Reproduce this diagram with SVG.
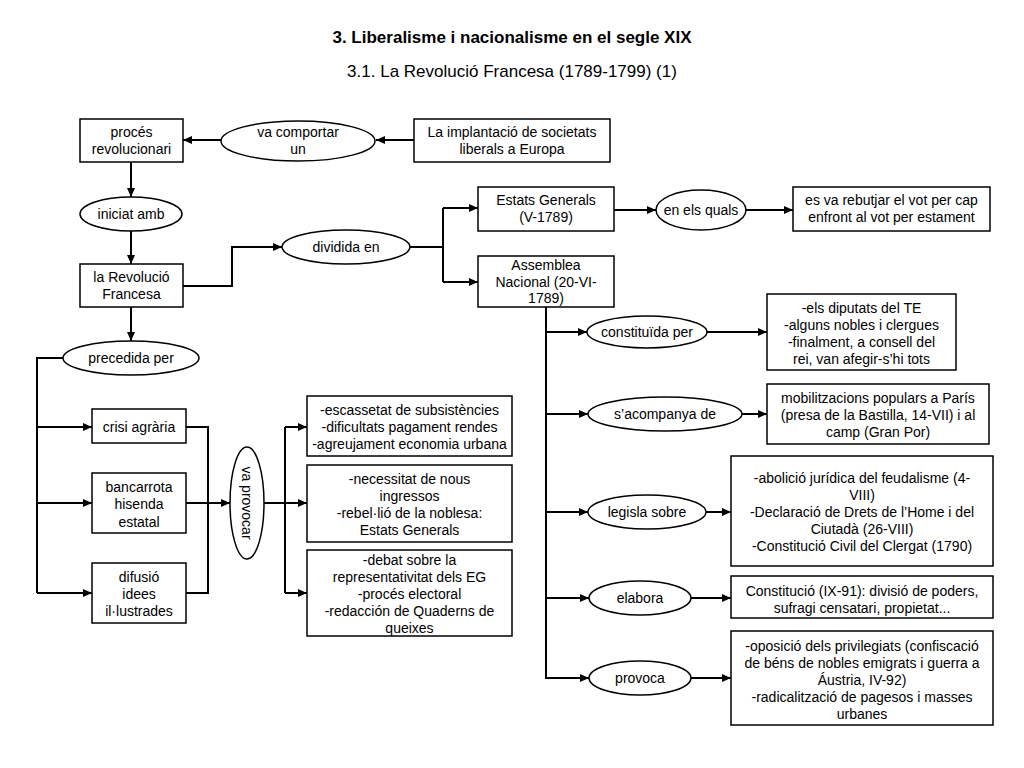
<svg xmlns="http://www.w3.org/2000/svg" width="1024" height="768" viewBox="0 0 1024 768">
<defs>
<marker id="ah" markerWidth="9" markerHeight="8" refX="9" refY="4" orient="auto" markerUnits="userSpaceOnUse"><path d="M0,0 L9,4 L0,8 z" fill="#000"/></marker>
<style>
text{font-family:"Liberation Sans",Arial,sans-serif;font-size:14px;fill:#000;text-anchor:middle}
.t1{font-size:17px;font-weight:bold}
.t2{font-size:17px}
rect,ellipse{fill:#fff;stroke:#000;stroke-width:1.5}
.c path{fill:none;stroke:#000;stroke-width:2}
.a{marker-end:url(#ah)}
</style>
</defs>
<rect x="0" y="0" width="1024" height="768" style="stroke:none;fill:#fff"/>
<text class="t1" x="512" y="43">3. Liberalisme i nacionalisme en el segle XIX</text>
<text class="t2" x="512" y="77">3.1. La Revolució Francesa (1789-1799) (1)</text>

<g class="c" id="connectors">
<path class="a" d="M414,140 H376"/>
<path class="a" d="M221,140 H183"/>
<path class="a" d="M131,162 V197"/>
<path class="a" d="M131,231 V264"/>
<path class="a" d="M131,307 V341"/>
<path class="a" d="M183,286 H232 V247 H282"/>
<path d="M409,247 H443 M443,208 V282"/>
<path class="a" d="M443,208 H478"/>
<path class="a" d="M443,282 H478"/>
<path class="a" d="M614,210 H656"/>
<path class="a" d="M746,210 H793"/>
<path d="M546,307 V679"/>
<path class="a" d="M546,332 H587"/>
<path class="a" d="M546,414 H588"/>
<path class="a" d="M546,512 H588"/>
<path class="a" d="M546,598 H589"/>
<path class="a" d="M546,678 H589"/>
<path class="a" d="M707,332 H767"/>
<path class="a" d="M742,414 H767"/>
<path class="a" d="M706,512 H731"/>
<path class="a" d="M691,598 H731"/>
<path class="a" d="M691,678 H731"/>
<path d="M63,358 H37 V593"/>
<path class="a" d="M37,427 H92"/>
<path class="a" d="M37,503 H92"/>
<path class="a" d="M37,593 H92"/>
<path d="M186,427 H208 V593 H186"/>
<path class="a" d="M186,503 H230"/>
<path d="M264,503 H285 M285,427 V593"/>
<path class="a" d="M285,427 H307"/>
<path class="a" d="M285,503 H307"/>
<path class="a" d="M285,593 H307"/>
</g>

<g id="proces"><rect x="80" y="119" width="103" height="43"/><text x="131.5" y="137">procés</text><text x="131.5" y="154">revolucionari</text></g>
<g id="comportar"><ellipse cx="298" cy="141" rx="77" ry="20"/><text x="298" y="137">va comportar</text><text x="298" y="154">un</text></g>
<g id="implantacio"><rect x="414" y="119" width="196" height="43"/><text x="512" y="137">La implantació de societats</text><text x="512" y="154">liberals a Europa</text></g>
<g id="iniciat"><ellipse cx="131" cy="214" rx="51" ry="17"/><text x="131" y="219">iniciat amb</text></g>
<g id="revolucio"><rect x="80" y="264" width="103" height="43"/><text x="131.5" y="282">la Revolució</text><text x="131.5" y="299">Francesa</text></g>
<g id="dividida"><ellipse cx="346" cy="247" rx="64" ry="17"/><text x="346" y="252">dividida en</text></g>
<g id="estats"><rect x="478" y="187" width="136" height="44"/><text x="546" y="205">Estats Generals</text><text x="546" y="222">(V-1789)</text></g>
<g id="quals"><ellipse cx="701" cy="210" rx="45" ry="20"/><text x="701" y="215">en els quals</text></g>
<g id="rebutjar"><rect x="793" y="187" width="197" height="44"/><text x="891.5" y="205">es va rebutjar el vot per cap</text><text x="891.5" y="222">enfront al vot per estament</text></g>
<g id="assemblea"><rect x="478" y="256" width="136" height="51"/><text x="546" y="270">Assemblea</text><text x="546" y="287">Nacional (20-VI-</text><text x="546" y="303">1789)</text></g>
<g id="constituida"><ellipse cx="647" cy="332" rx="60" ry="16"/><text x="647" y="337">constituïda per</text></g>
<g id="diputats"><rect x="767" y="294" width="189" height="76"/><text x="861.5" y="313">-els diputats del TE</text><text x="861.5" y="330">-alguns nobles i clergues</text><text x="861.5" y="347">-finalment, a consell del</text><text x="861.5" y="364">rei, van afegir-s’hi tots</text></g>
<g id="acompanya"><ellipse cx="665" cy="414" rx="77" ry="17"/><text x="665" y="419">s’acompanya de</text></g>
<g id="mobilitzacions"><rect x="767" y="384" width="222" height="60"/><text x="878" y="403">mobilitzacions populars a París</text><text x="878" y="420">(presa de la Bastilla, 14-VII) i al</text><text x="878" y="437">camp (Gran Por)</text></g>
<g id="legisla"><ellipse cx="647" cy="512" rx="59" ry="17"/><text x="647" y="517">legisla sobre</text></g>
<g id="abolicio"><rect x="731" y="456" width="262" height="110"/><text x="862" y="483">-abolició jurídica del feudalisme (4-</text><text x="862" y="500">VIII)</text><text x="862" y="517">-Declaració de Drets de l’Home i del</text><text x="862" y="534">Ciutadà (26-VIII)</text><text x="862" y="551">-Constitució Civil del Clergat (1790)</text></g>
<g id="elabora"><ellipse cx="640" cy="598" rx="51" ry="17"/><text x="640" y="603">elabora</text></g>
<g id="constitucio"><rect x="731" y="576" width="262" height="42"/><text x="862" y="596">Constitució (IX-91): divisió de poders,</text><text x="862" y="613">sufragi censatari, propietat...</text></g>
<g id="provoca"><ellipse cx="640" cy="678" rx="51" ry="17"/><text x="640" y="683">provoca</text></g>
<g id="oposicio"><rect x="731" y="631" width="262" height="94"/><text x="862" y="651">-oposició dels privilegiats (confiscació</text><text x="862" y="668">de béns de nobles emigrats i guerra a</text><text x="862" y="685">Áustria, IV-92)</text><text x="862" y="702">-radicalització de pagesos i masses</text><text x="862" y="719">urbanes</text></g>
<g id="precedida"><ellipse cx="131" cy="358" rx="68" ry="17"/><text x="131" y="363">precedida per</text></g>
<g id="crisi"><rect x="92" y="409" width="94" height="34"/><text x="139" y="432">crisi agrària</text></g>
<g id="bancarrota"><rect x="92" y="473" width="94" height="60"/><text x="139" y="492">bancarrota</text><text x="139" y="509">hisenda</text><text x="139" y="527">estatal</text></g>
<g id="difusio"><rect x="92" y="563" width="94" height="60"/><text x="139" y="582">difusió</text><text x="139" y="599">idees</text><text x="139" y="616">il·lustrades</text></g>
<g id="vaprovocar"><ellipse cx="247" cy="503" rx="17" ry="56"/><text transform="translate(247,503) rotate(90)" x="0" y="5">va provocar</text></g>
<g id="causesA"><rect x="307" y="396" width="205" height="60"/><text x="409.5" y="415">-escassetat de subsistències</text><text x="409.5" y="432">-dificultats pagament rendes</text><text x="409.5" y="449">-agreujament economia urbana</text></g>
<g id="causesB"><rect x="307" y="465" width="205" height="77"/><text x="409.5" y="484">-necessitat de nous</text><text x="409.5" y="501">ingressos</text><text x="409.5" y="518">-rebel·lió de la noblesa:</text><text x="409.5" y="535">Estats Generals</text></g>
<g id="causesC"><rect x="307" y="550" width="205" height="86"/><text x="409.5" y="565">-debat sobre la</text><text x="409.5" y="582">representativitat dels EG</text><text x="409.5" y="599">-procés electoral</text><text x="409.5" y="616">-redacción de Quaderns de</text><text x="409.5" y="633">queixes</text></g>
</svg>
